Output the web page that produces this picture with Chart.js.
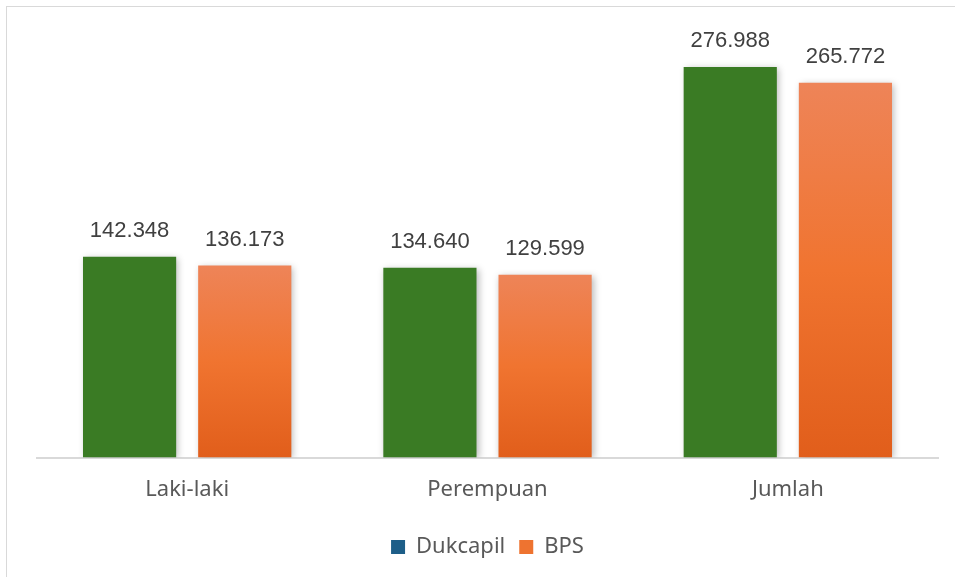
<!DOCTYPE html>
<html>
<head>
<meta charset="utf-8">
<script src="https://cdn.jsdelivr.net/npm/chart.js@4/dist/chart.umd.min.js"></script>
<style>
html,body{margin:0;padding:0;background:#fff;}
#wrap{position:absolute;left:0;top:0;width:955px;height:577px;}
#frame{position:absolute;left:6px;top:6px;width:960px;height:600px;border:1.5px solid #d9d9d9;box-sizing:border-box;}
canvas{position:absolute;left:0;top:0;}
</style>
</head>
<body>
<div id="wrap"><div id="frame"></div><canvas id="c" width="955" height="577"></canvas></div>
<script>
const categories = ['Laki-laki', 'Perempuan', 'Jumlah'];
const seriesNames = ['Dukcapil', 'BPS'];
const dukcapil = [142.348, 134.640, 276.988];
const bps = [136.173, 129.599, 265.772];

const NUMFONT = "'Liberation Sans', Arial, sans-serif";
const TXTFONT = "'Noto Sans', 'Open Sans', sans-serif";

function orangeGradient(ctx) {
  const chart = ctx.chart;
  const area = chart.chartArea;
  if (!area || ctx.type !== 'data') return '#EE7330';
  const y = chart.scales.y;
  const top = y.getPixelForValue(ctx.raw);
  const bottom = y.getPixelForValue(0);
  const g = chart.ctx.createLinearGradient(0, top, 0, bottom);
  g.addColorStop(0, '#EE8458');
  g.addColorStop(0.5, '#F07430');
  g.addColorStop(1, '#E15E1B');
  return g;
}

const shadowPlugin = {
  id: 'barShadow',
  beforeDatasetsDraw(chart) {
    const c = chart.ctx;
    c.save();
    c.shadowColor = 'rgba(0,0,0,0.28)';
    c.shadowBlur = 7;
    c.shadowOffsetX = 2;
    c.shadowOffsetY = 1;
  },
  afterDatasetsDraw(chart) {
    chart.ctx.restore();
  }
};

const labelPlugin = {
  id: 'valueLabels',
  afterDatasetsDraw(chart) {
    const c = chart.ctx;
    c.save();
    c.font = '22px ' + NUMFONT;
    c.fillStyle = '#404040';
    c.textAlign = 'center';
    c.textBaseline = 'alphabetic';
    chart.data.datasets.forEach((ds, i) => {
      chart.getDatasetMeta(i).data.forEach((bar, j) => {
        c.fillText(ds.data[j].toFixed(3), bar.x, bar.y - 20);
      });
    });
    c.restore();
  }
};

new Chart(document.getElementById('c'), {
  type: 'bar',
  data: {
    labels: categories,
    datasets: [
      { label: seriesNames[0], data: dukcapil, backgroundColor: '#3A7B24', legendColor: '#1D5E88' },
      { label: seriesNames[1], data: bps, backgroundColor: orangeGradient, legendColor: '#EE7330' }
    ]
  },
  options: {
    responsive: false,
    animation: false,
    devicePixelRatio: 1,
    categoryPercentage: 0.767,
    barPercentage: 0.809,
    layout: { padding: { left: 37, right: 17, top: 34.5, bottom: 9 } },
    scales: {
      x: {
        grid: { display: false, drawTicks: false },
        border: { display: true, color: '#d9d9d9', width: 2 },
        ticks: { font: { size: 22, family: TXTFONT }, color: '#595959', padding: 19 }
      },
      y: {
        display: false,
        min: 0,
        max: 300
      }
    },
    plugins: {
      tooltip: { enabled: false },
      legend: {
        position: 'bottom',
        labels: {
          boxWidth: 14,
          boxHeight: 14,
          padding: 14,
          font: { size: 22, family: TXTFONT },
          color: '#595959',
          generateLabels(chart) {
            return chart.data.datasets.map((ds, i) => ({
              text: ds.label,
              fillStyle: ds.legendColor,
              strokeStyle: ds.legendColor,
              lineWidth: 0,
              fontColor: '#595959',
              datasetIndex: i,
              hidden: false
            }));
          }
        }
      }
    }
  },
  plugins: [shadowPlugin, labelPlugin]
});
</script>
</body>
</html>
